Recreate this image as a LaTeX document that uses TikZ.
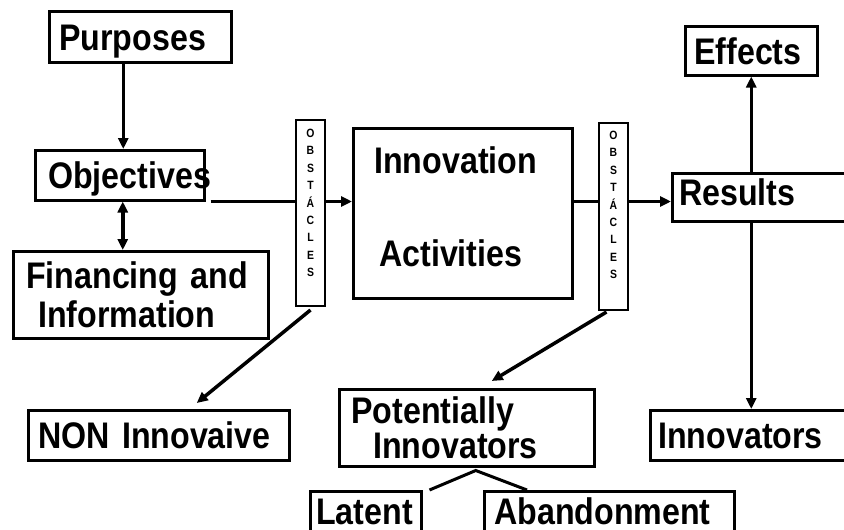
\documentclass[tikz,border=0pt]{standalone}
\usepackage{fontspec}
\setmainfont{Liberation Sans}[FakeStretch=0.87]
\usetikzlibrary{arrows.meta}

\tikzset{
	box/.style = {draw, line width = 2.5pt, anchor = north west, align = left, inner ysep = 0pt, font = \fontsize{37}{39}\selectfont\bfseries},
	oneline/.style = {text height = 29pt, text depth = 2pt},
	obsbox/.style = {draw, line width = 2pt, anchor = north west, minimum width = 29pt, inner sep = 0pt},
	obstxt/.style = {anchor = north, align = center, inner sep = 0pt, font = \fontsize{12}{17.4}\selectfont\bfseries}
}

\begin{document}
\begin{tikzpicture}[x = 1pt, y = -1pt, > = {Triangle[length = 11pt, width = 10pt]}]

	\useasboundingbox (0, 0) rectangle (844, 530);
	\clip (0, 0) rectangle (844, 530);

	% The boxes

	\node (purp) [box, oneline, text width = 162pt, inner xsep = 10pt, minimum height = 51pt] at (48, 10) {Purposes};
	\node (obj) [box, oneline, text width = 143pt, inner xsep = 13pt, minimum height = 50pt] at (34, 149) {Objectives};
	\node (fin) [box, text width = 229pt, inner xsep = 13pt, minimum height = 87pt] at (12, 250) {Financing and\\\hspace*{12pt}Information};
	\node (innov) [box, text width = 177pt, inner xsep = 21pt, minimum height = 170pt] at (352, 127) {Innovation\\[54pt]\hspace*{5pt}Activities\rule[-14pt]{0pt}{14pt}};
	\node (res) [box, oneline, text depth = 12pt, text width = 236pt, inner xsep = 7pt, minimum height = 48pt] at (671, 172) {Results};
	\node (eff) [box, oneline, text width = 114pt, inner xsep = 9pt, minimum height = 49pt] at (684, 25) {Effects};
	\node (innv) [box, oneline, text width = 235pt, inner xsep = 8pt, minimum height = 50pt] at (649, 409) {Innovators};
	\node (non) [box, oneline, text width = 241pt, inner xsep = 10pt, minimum height = 50pt] at (27, 409) {NON Innovaive};
	\node (pot) [box, font = \fontsize{37}{32}\selectfont\bfseries, text width = 231pt, inner xsep = 12pt, minimum height = 77pt] at (338, 388) {Potentially\\\hspace*{22pt}Innovators};
	\node (lat) [box, oneline, text depth = 6pt, text width = 99pt, inner xsep = 6pt, minimum height = 44pt] at (309, 490) {Latent};
	\node (aband) [box, oneline, text depth = 6pt, text width = 230pt, inner xsep = 10pt, minimum height = 44pt] at (483, 490) {Abandonment};

	% Obstacles

	\node (obs1) [obsbox, minimum height = 186pt] at (295, 119) {};
	\node (obs1txt) [obstxt] at ([yshift = -10pt] obs1.north) {O\\B\\S\\T\\Á\\C\\L\\E\\S};
	\node (obs2) [obsbox, minimum height = 187pt] at (598, 122) {};
	\node (obs2txt) [obstxt] at ([yshift = -9pt] obs2.north) {O\\B\\S\\T\\Á\\C\\L\\E\\S};

	% Arrows

	\begin{scope}[->, line width = 3.5pt]

		\draw ([xshift = -17pt] purp.south) -- ([xshift = -17pt] purp.south |- obj.north);
		\draw [<->] ([xshift = 3pt] obj.south) -- ([xshift = 3pt] obj.south |- fin.north);
		\draw (obs1.east |- obj.south) -- (innov.west |- obj.south);
		\draw (obs2.east |- obj.south) -- (res.west |- obj.south);
		\draw (res.north -| eff.south) -- (eff.south);
		\draw (res.south -| eff.south) -- (innv.north -| eff.south);
		\draw ([yshift = -3pt] obs1.south) -- ([xshift = 38pt, yshift = 6pt] non.north);
		\draw ([xshift = -7pt, yshift = -1pt] obs2.south) -- ([xshift = 25pt, yshift = 7pt] pot.north);

	\end{scope}

	% Plain lines

	\begin{scope}[line width = 3pt]

		\draw ([xshift = 5pt] obj.south east) -- (obs1.west |- obj.south);
		\draw (innov.east |- obj.south) -- (obs2.west |- obj.south);
		\coordinate (latend) at ([xshift = 7pt] lat.north east);
		\coordinate (abdend) at ([xshift = 44pt] aband.north west);
		\draw (latend) -- ([xshift = 9pt, yshift = -3pt] pot.south) -- (abdend);

	\end{scope}

\end{tikzpicture}
\end{document}
